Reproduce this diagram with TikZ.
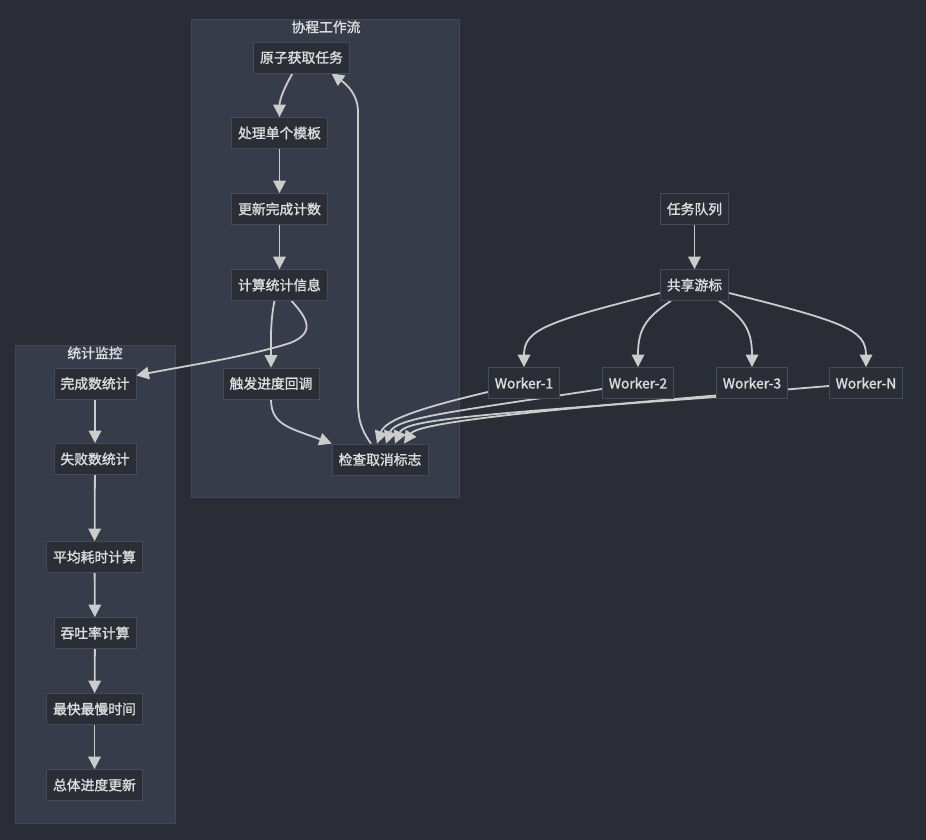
\documentclass[tikz,border=0pt]{standalone}
\usepackage{fontspec}
\setmainfont{Noto Sans CJK SC}[FakeBold=1.6]
\usetikzlibrary{arrows.meta}
\definecolor{bgc}{HTML}{2A2D36}
\definecolor{clfill}{HTML}{373C4B}
\definecolor{cldraw}{HTML}{41465A}
\definecolor{ndfill}{HTML}{2B2E37}
\definecolor{nddraw}{HTML}{464B59}
\definecolor{txt}{HTML}{DCDCDC}
\definecolor{edgec}{HTML}{CCCCCC}
\pgfdeclarelayer{bglayer}
\pgfdeclarelayer{edgelayer}
\pgfsetlayers{bglayer,edgelayer,main}
\tikzset{
  box/.style={draw=nddraw, fill=ndfill, line width=0.8pt, text=txt, inner xsep=6.5pt, inner ysep=0pt, minimum height=31pt, font=\fontsize{13.8}{16}\selectfont},
  cluster/.style={draw=cldraw, fill=clfill, line width=0.8pt},
  ctitle/.style={text=txt, font=\fontsize{13.8}{16}\selectfont},
  flow/.style={draw=edgec, line width=1.8pt, -{Triangle[length=12.5pt,width=12.5pt]}}
}
\begin{document}
\begin{tikzpicture}[x=1pt,y=-1pt]
\begin{pgfonlayer}{bglayer}
\fill[bgc] (0,0) rectangle (926,840);
\useasboundingbox (0,0) rectangle (926,840);
\draw[cluster] (191,19) rectangle (459,497);
\draw[cluster] (15,345) rectangle (175,823);
\end{pgfonlayer}
\node[ctitle] (t1) at (326,27) {协程工作流};
\node[ctitle] (t2) at (95,353) {统计监控};
% coroutine workflow
\node[box] (n1) at (301.5,57.5) {原子获取任务};
\node[box] (n2) at (279.5,133) {处理单个模板};
\node[box] (n3) at (279.5,209) {更新完成计数};
\node[box] (n4) at (279.5,285) {计算统计信息};
\node[box] (n5) at (271,383.5) {触发进度回调};
\node[box] (n6) at (380,459.5) {检查取消标志};
% stats
\node[box] (s1) at (95,383.5) {完成数统计};
\node[box] (s2) at (95,459) {失败数统计};
\node[box] (s3) at (94.5,557) {平均耗时计算};
\node[box] (s4) at (95,633) {吞吐率计算};
\node[box] (s5) at (94.5,709) {最快最慢时间};
\node[box] (s6) at (94.5,785) {总体进度更新};
% right
\node[box] (q) at (694.5,209) {任务队列};
\node[box] (c) at (694.5,285) {共享游标};
\node[box] (w1) at (524,383) {Worker-1};
\node[box] (w2) at (638,383) {Worker-2};
\node[box] (w3) at (752,383) {Worker-3};
\node[box] (wN) at (866,383) {Worker-N};
\begin{pgfonlayer}{edgelayer}
\draw[flow] ([xshift=-9pt]n1.south) .. controls (284,88) and (279.5,100) .. (n2.north);
\draw[flow] (n2) -- (n3);
\draw[flow] (n3) -- (n4);
\draw[flow] ([xshift=-5pt]n4.south) .. controls (270,322) and (271,345) .. (n5.north);
\draw[flow] ([xshift=12pt]n4.south) .. controls (305,316) and (318,332) .. (290,343) .. controls (250,356) and (185,366) .. ([yshift=8pt]s1.east);
\draw[flow] (n5.south) .. controls (271,425) and (290,428) .. (n6.north west);
\draw[flow] ([xshift=-9pt]n6.north) .. controls (360,428) and (358,418) .. (358,400) -- (358,112) .. controls (358,94) and (346,84) .. ([xshift=30pt]n1.south);
\draw[flow] (q) -- (c);
\draw[flow] ([yshift=-8pt]c.west) .. controls (545,322) and (524,330) .. (w1.north);
\draw[flow] ([xshift=-23.5pt]c.south) .. controls (645,318) and (638,330) .. (w2.north);
\draw[flow] ([xshift=24.5pt]c.south) .. controls (744,318) and (752,330) .. (w3.north);
\draw[flow] ([yshift=-8pt]c.east) .. controls (845,322) and (866,330) .. (wN.north);
\draw[flow] ([yshift=-9pt]w1.west) .. controls (420,408) and (385,420) .. ([xshift=-3pt]n6.north);
\draw[flow] ([yshift=-6pt]w2.west) .. controls (450,412) and (395,418) .. ([xshift=6pt]n6.north);
\draw[flow] ([yshift=-14pt]w3.west) .. controls (470,415) and (405,420) .. ([xshift=15pt]n6.north);
\draw[flow] ([yshift=-3pt]wN.west) .. controls (600,405) and (420,420) .. ([xshift=24pt]n6.north);
\draw[flow] (s1) -- (s2);
\draw[flow] (s2) -- (s3);
\draw[flow] (s3) -- (s4);
\draw[flow] (s4) -- (s5);
\draw[flow] (s5) -- (s6);
\end{pgfonlayer}
\end{tikzpicture}
\end{document}
